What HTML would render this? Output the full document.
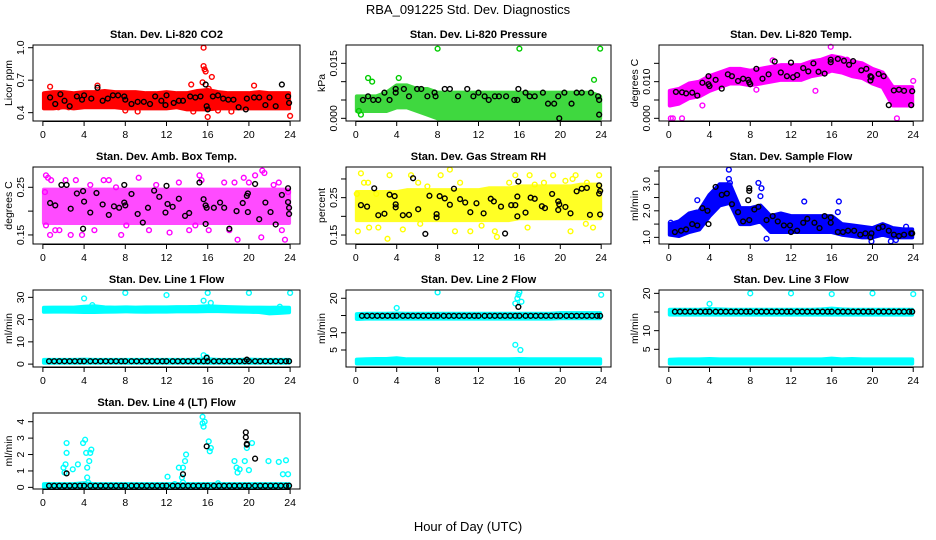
<!DOCTYPE html>
<html><head><meta charset="utf-8"><style>
body{margin:0;background:#fff}
svg{display:block;font-family:"Liberation Sans",sans-serif}
</style></head><body>
<svg id="c" width="936" height="540" viewBox="0 0 936 540">
<text x="468" y="14" text-anchor="middle" font-size="13">RBA_091225  Std. Dev. Diagnostics</text>
<text x="468" y="531" text-anchor="middle" font-size="13">Hour of Day (UTC)</text>
</svg>
<script>
const hb=[0,1,2,3,4,5,6,7,8,9,10,11,12,13,14,15,16,17,18,19,20,21,22,23,24];
const baseX=[0.6,1.1,1.6,2.1,2.6,3.1,3.6,4.0,4.6,5.1,5.6,6.1,6.6,7.1,7.6,8.0,8.6,9.1,9.6,10.1,10.6,11.1,11.6,12.0,12.6,13.1,13.6,14.1,14.6,15.1,15.6,16.0,16.6,17.1,17.6,18.1,18.6,19.1,19.6,20.0,20.6,21.1,21.6,22.1,22.6,23.1,23.6,23.9];

// Panel 1 CO2
const co2Lo=[.44,.44,.45,.44,.45,.45,.45,.45,.44,.44,.44,.44,.44,.45,.43,.43,.43,.44,.44,.44,.44,.44,.44,.44,.44];
const co2Hi=[.58,.59,.59,.58,.59,.59,.60,.59,.59,.59,.58,.58,.59,.58,.58,.60,.61,.59,.58,.58,.58,.59,.58,.58,.58];
const co2Black=[[0.7,.54],[1.2,.48],[1.7,.57],[2.1,.51],[2.6,.46],[3.3,.55],[3.8,.52],[4,.56],[4.7,.53],[5.3,.63],[5.8,.51],[6.3,.53],[6.8,.56],[7.3,.56],[7.9,.55],[8,.52],[8.6,.48],[9.2,.50],[9.8,.50],[10.4,.48],[10.9,.55],[11.5,.51],[11.9,.47],[12,.56],[12.7,.49],[13.2,.51],[13.6,.51],[14.3,.55],[14.8,.54],[15.3,.55],[15.8,.66],[15.9,.46],[16,.43],[16.5,.55],[17,.56],[17.5,.53],[18,.52],[18.5,.52],[19,.45],[19.7,.43],[19.8,.53],[20.5,.54],[21,.54],[21.6,.47],[22,.54],[22.6,.46],[23.2,.66],[23.8,.55],[23.9,.49]];
const co2Out=[[15.6,1.0],[15.6,.83],[15.7,.80],[15.8,.78],[15.5,.68],[16.4,.73],[16.1,.62],[14.4,.66],[16,.36],[24,.37],[20.5,.65],[5.3,.65],[0.7,.64],[1.5,.45],[8,.42],[18.3,.41],[14.6,.41],[17,.42],[9.2,.41],[2.5,.45]];
// Panel 2 Pressure
const prLo=[.002,.002,.002,.002,.003,.003,.002,.001,0,0,0,0,0,0,0,0,0,0,0,0,0,0,0,0,0];
const prHi=[.006,.006,.006,.007,.009,.009,.008,.008,.007,.007,.007,.007,.007,.007,.007,.007,.007,.007,.007,.007,.007,.007,.007,.007,.006];
const prBlack=[[0.7,.005],[1.2,.006],[1.7,.005],[2.2,.005],[2.8,.007],[3.3,.005],[3.9,.008],[3.9,.007],[4.7,.008],[5.2,.006],[6,.008],[6.4,.008],[7,.006],[7.7,.007],[7.8,.006],[8.7,.008],[9.2,.008],[10,.006],[10.9,.008],[11.5,.006],[12,.007],[12.6,.006],[13,.005],[13.6,.006],[14,.006],[14.7,.006],[15.5,.005],[15.9,.008],[15.8,.005],[16.6,.007],[17,.006],[17.5,.006],[18.3,.007],[18.8,.004],[19.4,.004],[19.8,.006],[19.9,.000],[20.4,.007],[21.1,.004],[21.6,.007],[22.1,.007],[23,.007],[23.7,.006],[23.8,.005],[23.8,.001]];
const prOut=[[8,.019],[16,.019],[23.9,.019],[23.3,.0105],[1.2,.011],[1.6,.010],[4.2,.011],[0.5,.001],[0.3,.002]];
// Panel 3 Li-820 Temp
const tLo=[.0035,.004,.0055,.006,.0075,.0085,.0095,.0095,.009,.0095,.010,.0105,.0105,.0105,.0115,.012,.013,.0125,.0115,.011,.0095,.0085,.0035,.0035,.0035];
const tHi=[.0075,.008,.0095,.010,.0115,.0125,.0135,.0135,.013,.0135,.014,.0145,.0145,.0145,.0155,.016,.017,.0165,.0155,.015,.0135,.0125,.0085,.0085,.0085];
const tBlack=[[0.7,.0072],[1.3,.0071],[1.7,.0068],[2.3,.007],[2.8,.0062],[3.3,.0097],[3.9,.0115],[3.9,.0093],[4,.0088],[4.6,.0105],[5.2,.0081],[5.8,.012],[6.2,.0115],[6.8,.0102],[7.3,.0108],[7.8,.0105],[7.9,.0098],[8.0,.0093],[8.6,.0135],[9.2,.0108],[9.8,.012],[10.4,.0155],[11,.0125],[11.6,.0115],[12,.0152],[12.2,.0112],[12.6,.0118],[13.2,.0137],[13.7,.0128],[14.2,.015],[14.7,.0127],[15.3,.0122],[15.9,.016],[15.9,.0153],[16.6,.0162],[17.2,.0157],[17.7,.0146],[18.1,.0156],[18.9,.0131],[19.4,.0135],[19.8,.0115],[19.9,.0112],[19.8,.0103],[20.6,.0121],[21.1,.0115],[21.6,.0036],[22.1,.0076],[22.6,.0078],[23.1,.0075],[23.8,.0036],[23.9,.0074]];
const tOut=[[0.2,0],[0.4,0],[1.3,0],[22.4,0],[15.9,.0195],[14.4,.0075],[10.2,.0158],[17.5,.016],[24,.0102],[3.3,.0035],[8.6,.0078]];
// Panel 4 Amb Box Temp
const abLo=[.175,.175,.175,.175,.175,.175,.175,.175,.175,.175,.175,.175,.175,.175,.175,.175,.175,.175,.175,.175,.175,.175,.175,.175,.175];
const abHi=[.245,.245,.245,.245,.245,.245,.245,.245,.245,.245,.245,.245,.245,.245,.245,.245,.245,.245,.245,.245,.245,.245,.245,.245,.245];
const abBlack=[[0.7,.217],[1.2,.212],[1.8,.255],[2.3,.255],[2.7,.205],[3.3,.237],[3.9,.242],[3.9,.163],[4,.22],[4.6,.197],[5.2,.238],[5.8,.214],[6.4,.192],[6.9,.21],[7.4,.207],[7.9,.255],[7.9,.218],[8,.212],[8.6,.236],[9.2,.194],[9.7,.176],[10.2,.207],[10.8,.243],[11.3,.23],[11.9,.197],[12,.253],[12.1,.215],[12.6,.209],[13.2,.226],[13.8,.19],[14.2,.196],[15.2,.26],[15.6,.225],[15.8,.173],[15.8,.212],[15.9,.207],[16.6,.207],[17.2,.218],[17.6,.207],[18.1,.163],[18.8,.2],[19.4,.217],[19.8,.232],[19.9,.237],[19.9,.198],[20.6,.257],[21,.183],[21.6,.218],[22.1,.198],[22.6,.172],[23.2,.234],[23.8,.248],[23.8,.219],[23.9,.194],[23.9,.207]];
const abOut=[[0.3,.275],[0.5,.27],[0.8,.265],[0.2,.24],[0.3,.17],[0.7,.15],[1.2,.16],[1.6,.16],[2.2,.265],[2.7,.15],[3.2,.265],[3.8,.15],[4.6,.255],[5,.16],[5.9,.265],[6.4,.265],[7.1,.25],[7.6,.15],[8.1,.17],[9.3,.27],[10.3,.16],[11,.255],[12.3,.155],[13.2,.26],[14.2,.16],[14.8,.17],[15.2,.275],[15.4,.265],[16.1,.16],[17.6,.26],[18.1,.16],[18.6,.26],[18.9,.14],[19.5,.27],[20,.26],[20.6,.275],[21.3,.285],[21.5,.28],[21.2,.145],[22.4,.255],[23.2,.16],[23.5,.14],[23.8,.24],[22.9,.26]];
// Panel 5 Gas Stream RH
const rhLo=[.19,.19,.19,.19,.19,.19,.19,.19,.19,.19,.19,.19,.19,.19,.19,.19,.195,.195,.195,.195,.195,.195,.195,.195,.195];
const rhHi=[.265,.265,.265,.265,.265,.27,.27,.27,.27,.27,.27,.27,.27,.275,.275,.275,.28,.28,.28,.28,.28,.28,.285,.285,.285];
const rhBlack=[[0.5,.23],[1.1,.226],[1.8,.275],[2.2,.203],[2.8,.207],[3.3,.258],[3.8,.254],[3.9,.232],[3.9,.224],[4.6,.203],[5.2,.204],[5.6,.302],[6.1,.219],[6.8,.153],[7.2,.255],[7.9,.206],[7.9,.197],[8.2,.254],[8.7,.248],[9.2,.231],[9.6,.274],[10.2,.246],[10.7,.237],[11.2,.211],[11.8,.235],[12.5,.208],[13.2,.247],[13.5,.24],[14.2,.226],[14.6,.154],[15.2,.23],[15.6,.23],[15.8,.253],[15.9,.293],[15.8,.2],[16.6,.21],[17.1,.25],[17.5,.247],[18.2,.227],[18.5,.222],[19.2,.26],[19.8,.24],[19.9,.232],[19.8,.217],[20.5,.225],[21,.208],[21.6,.267],[22.1,.274],[22.6,.276],[22.9,.204],[23.8,.283],[23.8,.261],[23.9,.205],[23.9,.268]];
const rhOut=[[0.1,.26],[0.2,.16],[0.5,.315],[0.8,.29],[1.2,.29],[1.3,.17],[2,.26],[2.2,.17],[3.1,.14],[3.3,.31],[4.6,.165],[5.4,.31],[6.1,.29],[6.3,.18],[7,.28],[8.3,.31],[9.2,.325],[9.7,.16],[10.2,.29],[11.2,.16],[12.3,.175],[13.6,.16],[13.8,.145],[15,.29],[15.6,.31],[17,.31],[17.5,.285],[18.4,.29],[19.3,.31],[20.5,.295],[21.2,.3],[21.5,.31],[22.5,.18],[22.6,.29],[23.8,.31],[21,.16],[23.2,.17],[16.8,.17]];
// Panel 6 Sample Flow
const sfLo=[1.1,1.05,1.2,1.3,1.8,2.2,2.3,1.5,1.5,1.6,1.2,1.2,1.2,1.2,1.2,1.2,1.2,1.1,1.05,1.0,1.0,1.1,1.0,1.0,1.0];
const sfHi=[1.5,1.6,1.9,2.0,2.6,3.0,3.0,2.1,2.1,2.2,1.8,1.9,1.8,1.8,1.8,1.8,1.8,1.5,1.45,1.4,1.35,1.5,1.35,1.3,1.3];
const sfBlack=[[0.6,1.2],[1.2,1.25],[1.7,1.3],[2.3,1.5],[2.8,1.45],[3.3,2.1],[3.8,2.0],[3.9,1.5],[4.6,2.9],[5.2,2.6],[5.7,2.65],[6.2,2.25],[6.8,1.95],[7.3,1.6],[7.8,2.4],[7.9,2.85],[7.9,2.75],[7.9,1.65],[8.4,2.05],[8.8,2.15],[9.6,1.65],[10.2,1.8],[10.7,1.6],[11.3,1.45],[11.9,1.45],[12,1.2],[12.6,1.25],[13.2,1.55],[13.6,1.7],[14.3,1.55],[14.8,1.35],[15.3,1.8],[15.9,1.55],[15.9,1.75],[16.6,1.2],[17.1,1.2],[17.6,1.25],[18.2,1.25],[18.8,1.1],[19.3,1.15],[19.8,1.0],[19.9,1.15],[20.6,1.35],[21,1.4],[21.6,1.25],[22.1,1.1],[22.6,1.05],[23.1,1.1],[23.8,1.15],[23.9,1.15]];
const sfOut=[[5.9,3.55],[5.9,3.2],[6,3.05],[8.8,3.05],[9.1,2.85],[9,2.55],[2.8,2.4],[16.7,2.35],[16.6,1.95],[13.3,2.35],[21.8,.85],[19.9,.85],[1,1.55],[9.6,.95],[22.3,.9],[23.3,1.4],[0.2,1.55]];
// Panel 7 Line 1 Flow
const l1UpLo=[23.5,23.6,23.6,23.5,23.4,23.4,23.5,23.6,23.7,23.6,23.5,23.6,23.6,23.7,23.7,23.7,23.8,23.8,23.7,23.6,23.5,23.4,22.8,23.0,23.3];
const l1UpHi=[25.3,25.4,25.4,25.4,25.8,26.0,25.5,25.4,25.5,25.4,25.5,25.5,25.5,25.6,25.6,25.7,26.0,25.8,25.6,25.5,25.4,25.4,25.3,25.4,25.3];
const l1LoLo=[0.6,0.6,0.6,0.6,0.6,0.6,0.6,0.6,0.6,0.6,0.6,0.6,0.6,0.6,0.6,0.6,0.6,0.6,0.6,0.6,0.6,0.6,0.6,0.6,0.6];
const l1LoHi=[1.9,1.9,1.9,1.9,2.0,1.9,1.9,1.9,1.9,1.9,1.9,1.9,1.9,1.9,1.9,2.0,2.2,1.9,1.9,1.9,2.0,1.9,1.9,1.9,1.9];
const l1BlackY=1.3;
const l1Out=[[4,29.5],[8,32],[12,31],[16,32],[20,32],[24,32],[15.6,28.5],[16.3,27.5],[15.6,4],[15.9,3.2],[4.8,26.5],[23,25.8]];
const l1Extra=[[15.9,2.8],[19.8,2.0]];
// Panel 8 Line 2 Flow
const l2UpLo=[14.0,14.1,14.1,14.1,14.1,14.1,14.1,14.1,14.1,14.1,14.1,14.1,14.1,14.1,14.1,14.1,14.1,14.1,14.1,14.1,14.2,14.2,14.2,14.2,14.2];
const l2UpHi=[15.4,15.5,15.5,15.5,15.6,15.5,15.5,15.5,15.5,15.5,15.5,15.5,15.5,15.5,15.5,15.5,15.5,15.5,15.5,15.5,15.7,15.7,15.7,15.7,15.7];
const l2LoLo=[1.1,1.1,1.1,1.1,1.1,1.1,1.1,1.1,1.1,1.1,1.1,1.1,1.1,1.1,1.1,1.1,1.1,1.1,1.1,1.1,1.1,1.1,1.1,1.1,1.1];
const l2LoHi=[2.2,2.3,2.4,2.4,2.6,2.3,2.3,2.3,2.3,2.3,2.3,2.3,2.3,2.3,2.3,2.3,2.4,2.3,2.3,2.3,2.3,2.3,2.3,2.3,2.3];
const l2BlackY=14.9;
const l2Out=[[4,17.2],[8,21.7],[16,21.7],[24,21],[15.8,20],[15.6,18.5],[16.2,19],[15.6,6.5],[16.1,5],[15.9,21]];
const l2Extra=[[15.9,17.5]];
// Panel 9 Line 3 Flow
const l3UpLo=[14.3,14.3,14.3,14.3,14.3,14.3,14.3,14.3,14.3,14.3,14.3,14.3,14.3,14.3,14.3,14.3,14.3,14.3,14.3,14.3,14.3,14.3,14.3,14.3,14.3];
const l3UpHi=[15.6,15.6,15.6,15.6,15.8,15.7,15.6,15.6,15.6,15.6,15.6,15.6,15.6,15.6,15.6,15.7,15.9,15.7,15.6,15.6,15.6,15.6,15.6,15.6,15.6];
const l3LoLo=[1.2,1.2,1.2,1.2,1.2,1.2,1.2,1.2,1.2,1.2,1.2,1.2,1.2,1.2,1.2,1.2,1.2,1.2,1.2,1.2,1.2,1.2,1.2,1.2,1.2];
const l3LoHi=[2.2,2.3,2.3,2.3,2.4,2.3,2.3,2.3,2.3,2.3,2.3,2.3,2.3,2.3,2.3,2.3,2.5,2.3,2.4,2.3,2.3,2.3,2.3,2.3,2.3];
const l3BlackY=15.1;
const l3Out=[[8,20],[12,20],[16,19.8],[20,20],[24,19.8],[4,17.2]];
const l3Extra=[];
// Panel 10 Line 4 (LT) Flow
const l4LoLo=[0,0,0,0,0,0,0,0,0,0,0,0,0,0,0,0,0,0,0,0,0,0,0,0,0];
const l4LoHi=[.2,.2,.2,.2,.25,.2,.2,.2,.2,.2,.2,.2,.2,.2,.2,.2,.2,.2,.2,.2,.2,.2,.2,.2,.2];
const l4BlackY=0.1;
const l4Out=[[2.0,1.2],[2.2,1.4],[2.3,2.7],[2.3,2.1],[2.1,.9],[2.9,1.1],[3.4,1.4],[3.9,2.7],[4.1,2.9],[4.2,2.1],[4.3,1.2],[4.3,.6],[4.5,1.6],[4.6,2.1],[4.7,2.3],[4.4,.3],[12.1,.65],[12.8,.2],[13.2,1.2],[13.6,1.2],[13.5,.6],[13.8,1.6],[13.9,2.0],[13.6,.3],[15.5,4.3],[15.5,3.9],[15.6,3.7],[15.7,4.0],[16.1,2.8],[16.2,2.2],[16.3,2.4],[18.6,1.6],[18.8,1.2],[18.9,.9],[19.1,1.1],[19.6,1.6],[19.8,2.4],[20,1.05],[20.3,2.7],[21.9,1.6],[22.9,1.55],[23.3,.8],[23.6,1.65],[23.8,.8],[17,.25]];
const l4Extra=[[2.3,.85],[13.6,.8],[15.9,2.5],[19.7,3.35],[19.7,3.05],[19.8,2.65],[19.8,2.6],[20.6,1.75]];

const NS='http://www.w3.org/2000/svg';
const svg=document.getElementById('c');
function mk(tag,attrs,parent){const e=document.createElementNS(NS,tag);for(const k in attrs)e.setAttribute(k,attrs[k]);(parent||svg).appendChild(e);return e;}

const panels=[
 {key:'co2',title:'Stan. Dev. Li-820 CO2',ylab:'Licor ppm',x0:33,x1:300,y0:45,y1:121,d0:.323,d1:1.025,ticks:[.4,.7,1.0],labels:['0.4','0.7','1.0'],col:'#ff0000',op:1,bands:[[co2Lo,co2Hi]],black:co2Black,out:co2Out},
 {key:'pressure',title:'Stan. Dev. Li-820 Pressure',ylab:'kPa',x0:346,x1:611,y0:45,y1:121,d0:-.00073,d1:.020,ticks:[0,.005,.010,.015],labels:['0.000','','','0.015'],col:'#00cc00',op:.75,bands:[[prLo,prHi]],black:prBlack,out:prOut},
 {key:'temp',title:'Stan. Dev. Li-820 Temp.',ylab:'degrees C',x0:659,x1:923,y0:45,y1:121,d0:-.00073,d1:.020,ticks:[0,.005,.010,.015],labels:['0.000','','0.010',''],col:'#ff00ff',op:1,bands:[[tLo,tHi]],black:tBlack,out:tOut},
 {key:'ambbox',title:'Stan. Dev. Amb. Box Temp.',ylab:'degrees C',x0:33,x1:300,y0:167,y1:244,d0:.131,d1:.2926,ticks:[.15,.2,.25],labels:['0.15','','0.25'],col:'#ff00ff',op:.7,bands:[[abLo,abHi]],black:abBlack,out:abOut},
 {key:'rh',title:'Stan. Dev. Gas Stream RH',ylab:'percent',x0:346,x1:611,y0:167,y1:244,d0:.126,d1:.332,ticks:[.15,.2,.25,.3],labels:['0.15','','0.25',''],col:'#ffff00',op:.85,bands:[[rhLo,rhHi]],black:rhBlack,out:rhOut},
 {key:'sampleflow',title:'Stan. Dev. Sample Flow',ylab:'ml/min',x0:659,x1:923,y0:167,y1:244,d0:.75,d1:3.65,ticks:[1,1.5,2,2.5,3,3.5],labels:['1.0','','2.0','','3.0',''],col:'#0000ff',op:1,bands:[[sfLo,sfHi]],black:sfBlack,out:sfOut},
 {key:'line1',title:'Stan. Dev. Line 1 Flow',ylab:'ml/min',x0:33,x1:300,y0:290,y1:367,d0:-1.3,d1:33.3,ticks:[0,10,20,30],labels:['0','10','20','30'],col:'#00ffff',op:1,bands:[[l1UpLo,l1UpHi],[l1LoLo,l1LoHi]],blackY:l1BlackY,black:l1Extra,out:l1Out},
 {key:'line2',title:'Stan. Dev. Line 2 Flow',ylab:'ml/min',x0:346,x1:611,y0:290,y1:367,d0:.07,d1:22.4,ticks:[5,10,15,20],labels:['5','10','','20'],col:'#00ffff',op:1,bands:[[l2UpLo,l2UpHi],[l2LoLo,l2LoHi]],blackY:l2BlackY,black:l2Extra,out:l2Out},
 {key:'line3',title:'Stan. Dev. Line 3 Flow',ylab:'ml/min',x0:659,x1:923,y0:290,y1:367,d0:.26,d1:20.9,ticks:[5,10,15,20],labels:['5','10','','20'],col:'#00ffff',op:1,bands:[[l3UpLo,l3UpHi],[l3LoLo,l3LoHi]],blackY:l3BlackY,black:l3Extra,out:l3Out},
 {key:'line4',title:'Stan. Dev. Line 4 (LT) Flow',ylab:'ml/min',x0:33,x1:300,y0:413,y1:489,d0:-.1,d1:4.53,ticks:[0,1,2,3,4],labels:['0','1','2','3','4'],col:'#00ffff',op:1,bands:[[l4LoLo,l4LoHi]],blackY:l4BlackY,black:l4Extra,out:l4Out}
];
const xTicks=[0,4,8,12,16,20,24];

panels.forEach(p=>{
  const g=mk('g',{});
  
  
  const X=h=>p.x0+(h+0.96)/25.92*(p.x1-p.x0);
  const Y=v=>p.y1-(v-p.d0)/(p.d1-p.d0)*(p.y1-p.y0);
  const t=mk('text',{x:(p.x0+p.x1)/2,y:p.y0-7,'text-anchor':'middle','font-size':'11','font-weight':'bold'},g);
  t.textContent=p.title;
  
  
  const clip=mk('g',{},g);
  
  
  p.bands.forEach(b=>{
    const lo=b[0],hi=b[1];
    let pts=[];
    for(let i=0;i<hb.length;i++){const hh=Math.min(Math.max(hb[i],0.1),23.9);pts.push(X(hh)+','+Y(hi[i]));}
    for(let i=hb.length-1;i>=0;i--){const hh=Math.min(Math.max(hb[i],0.1),23.9);pts.push(X(hh)+','+Y(lo[i]));}
    const pg=mk('polygon',{points:pts.join(' '),fill:p.col,stroke:p.col,'stroke-width':'4','stroke-linejoin':'round',opacity:p.op},clip);
    
    
  });
  p.out.forEach(d=>{
    const c=mk('circle',{cx:X(d[0]),cy:Y(d[1]),r:2.4,fill:'none',stroke:p.col,'stroke-width':'1.4'},clip);
    
    
  });
  if(p.blackY!==undefined){
    baseX.forEach(h=>{
      const c=mk('circle',{cx:X(h),cy:Y(p.blackY),r:2.4,fill:'none',stroke:'#000','stroke-width':'1.4'},clip);
      
      
    });
  }
  p.black.forEach(d=>{
    const c=mk('circle',{cx:X(d[0]),cy:Y(d[1]),r:2.4,fill:'none',stroke:'#000','stroke-width':'1.4'},clip);
    
    
  });
  const box=mk('rect',{x:p.x0,y:p.y0,width:p.x1-p.x0,height:p.y1-p.y0,fill:'none',stroke:'#000','stroke-width':'1'},g);
  
  
  mk('line',{x1:X(0),x2:X(24),y1:p.y1+0.5,y2:p.y1+0.5,stroke:'#000'},g);
  xTicks.forEach(h=>{
    mk('line',{x1:X(h),x2:X(h),y1:p.y1,y2:p.y1+5,stroke:'#000'},g);
    const tl=mk('text',{x:X(h),y:p.y1+17,'text-anchor':'middle','font-size':'10.5'},g);
    tl.textContent=h;
    
    
  });
  p.ticks.forEach((v,i)=>{
    const yy=Y(v);
    mk('line',{x1:p.x0-5,x2:p.x0,y1:yy,y2:yy,stroke:'#000'},g);
    if(p.labels[i]){
      const tl=mk('text',{x:p.x0-9,y:yy,'text-anchor':'middle','font-size':'10.5',transform:`rotate(-90 ${p.x0-9} ${yy})`},g);
      tl.textContent=p.labels[i];
      
      
    }
  });
  const yl=(p.y0+p.y1)/2;
  const yt=mk('text',{x:p.x0-21,y:yl,'text-anchor':'middle','font-size':'10.5',transform:`rotate(-90 ${p.x0-21} ${yl})`},g);
  yt.textContent=p.ylab;
  
  
});
</script>
</body></html>
